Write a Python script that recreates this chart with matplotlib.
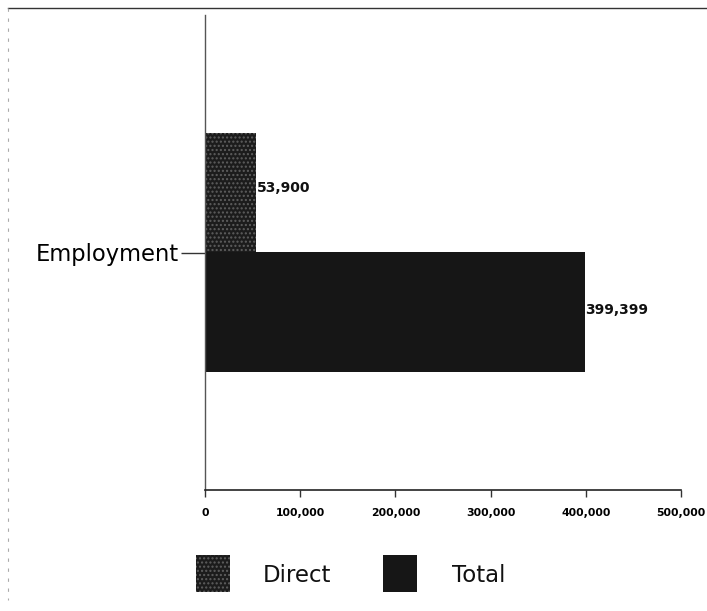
import matplotlib
matplotlib.use("Agg")
import matplotlib.pyplot as plt
from matplotlib.patches import Rectangle
from matplotlib.lines import Line2D

plt.rcParams['font.family'] = ['DejaVu Sans']
plt.rcParams['hatch.linewidth'] = 1.0

categories = ["Employment"]
series_names = ["Direct", "Total"]
direct_values = [53900]
total_values = [399399]
x_ticks = [0, 100000, 200000, 300000, 400000, 500000]
x_tick_labels = ["0", "100,000", "200,000", "300,000", "400,000", "500,000"]

fig = plt.figure(figsize=(7.07, 6.11), dpi=100)
W, H = 707, 611
ax = fig.add_axes([205 / W, 1 - 490 / H, (681 - 205) / W, (490 - 15) / H])

bar_h = 0.505
direct_style = dict(color="#1c1c1c", hatch="....", edgecolor="#5e5e5e", linewidth=0)
total_style = dict(color="#161616", linewidth=0)

ax.barh([0.25], direct_values, height=bar_h, **direct_style)
ax.barh([-0.25], total_values, height=bar_h, **total_style)

ax.text(direct_values[0] + 800, 0.25 + 0.02, f"{direct_values[0]:,}", va="center", ha="left",
        fontsize=10, fontweight="bold", color="#111")
ax.text(total_values[0] - 500, -0.25 + 0.01, f"{total_values[0]:,}", va="center", ha="left",
        fontsize=10, fontweight="bold", color="#111")

ax.set_xlim(0, 500000)
ax.set_ylim(-1, 1)
ax.set_xticks(x_ticks)
ax.set_xticklabels(x_tick_labels, fontsize=7.8, fontweight="bold")
ax.set_yticks([0])
ax.set_yticklabels(categories, fontsize=16.3)
ax.tick_params(axis="y", length=17, width=1, color="#333", pad=2)
ax.tick_params(axis="x", length=5, width=1, color="#333", pad=8)
for s in ("top", "right"):
    ax.spines[s].set_visible(False)
ax.spines["left"].set_color("#555")
ax.spines["left"].set_linewidth(1)
ax.spines["bottom"].set_color("#222")
ax.spines["bottom"].set_linewidth(1.2)

# legend drawn in figure pixel coordinates
def px(x, y):
    return x / W, 1 - y / H

lx, ly = px(196, 592)
fig.patches.append(Rectangle((lx, ly), 34 / W, 37 / H, transform=fig.transFigure,
                             facecolor="#1c1c1c", hatch="....", edgecolor="#5e5e5e", linewidth=0))
tx, ty = px(263, 575)
fig.text(tx, ty, series_names[0], fontsize=16.5, va="center", ha="left", color="#111")
lx2, ly2 = px(383, 592)
fig.patches.append(Rectangle((lx2, ly2), 34 / W, 37 / H, transform=fig.transFigure,
                             facecolor="#161616", linewidth=0))
tx2, ty2 = px(452, 575)
fig.text(tx2, ty2, series_names[1], fontsize=16.5, va="center", ha="left", color="#111")

# outer frame lines
fig.lines.append(Line2D([8 / W, 1], [1 - 8 / H, 1 - 8 / H], transform=fig.transFigure,
                        color="#333", linewidth=1))
fig.lines.append(Line2D([8 / W, 8 / W], [1 - 8 / H, 1 - 600 / H], transform=fig.transFigure,
                        color="#aaa", linewidth=0.8, linestyle=(0, (3, 6))))

fig.savefig("out.png", dpi=100)
